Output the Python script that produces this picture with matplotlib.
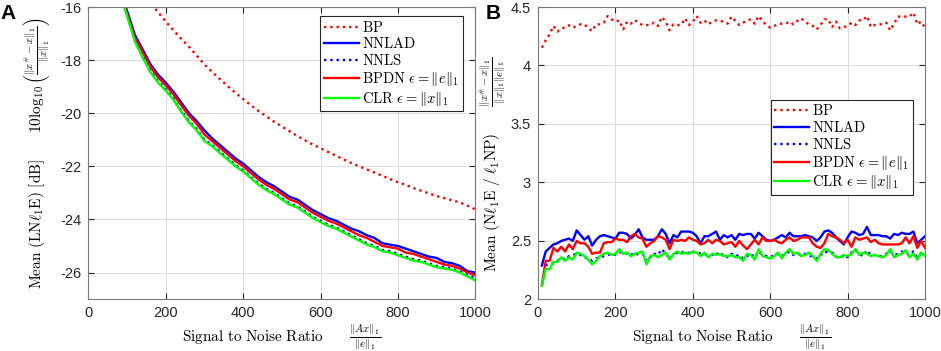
import matplotlib
matplotlib.use("Agg")
import matplotlib.pyplot as plt
from matplotlib.ticker import FormatStrFormatter

plt.rcParams["mathtext.fontset"] = "cm"
plt.rcParams["font.family"] = ["Liberation Sans", "DejaVu Sans"]
plt.rcParams["axes.unicode_minus"] = False

# ---- panel A: mean LNl1E [dB] vs SNR ----
snr_a = list(range(80, 1001, 20))
bp_a = [-13.6, -14.3, -14.9, -15.4, -15.85, -16.2, -16.55, -16.88, -17.2, -17.5,
        -17.83, -18.17, -18.45, -18.72, -18.98, -19.23, -19.47, -19.7, -19.92, -20.12,
        -20.32, -20.5, -20.68, -20.86, -21.02, -21.18, -21.32, -21.46, -21.6, -21.74,
        -21.88, -22.0, -22.12, -22.24, -22.36, -22.48, -22.6, -22.7, -22.82, -22.92,
        -23.02, -23.12, -23.2, -23.28, -23.36, -23.48, -23.62]
nnlad_a = [-15.3, -16.15, -17.05, -17.6, -18.15, -18.55, -18.85, -19.2, -19.6, -20.0,
           -20.3, -20.65, -20.95, -21.2, -21.45, -21.7, -21.9, -22.15, -22.4, -22.6,
           -22.75, -22.95, -23.15, -23.25, -23.45, -23.65, -23.8, -23.95, -24.05, -24.2,
           -24.35, -24.45, -24.6, -24.7, -24.9, -24.95, -25.0, -25.1, -25.2, -25.3,
           -25.4, -25.45, -25.6, -25.65, -25.75, -25.95, -26.0]
nnls_a = [-15.4, -16.3, -17.25, -17.85, -18.4, -18.8, -19.1, -19.45, -19.9, -20.3,
          -20.6, -21.0, -21.2, -21.45, -21.7, -21.95, -22.15, -22.4, -22.65, -22.85,
          -23.0, -23.2, -23.4, -23.5, -23.7, -23.9, -24.05, -24.2, -24.3, -24.45,
          -24.6, -24.75, -24.9, -25.0, -25.15, -25.2, -25.3, -25.4, -25.5, -25.55,
          -25.65, -25.75, -25.8, -25.85, -25.95, -26.1, -26.2]
bpdn_a = [-15.35, -16.25, -17.15, -17.7, -18.25, -18.65, -18.95, -19.3, -19.7, -20.1,
          -20.4, -20.8, -21.05, -21.3, -21.55, -21.8, -22.0, -22.25, -22.5, -22.7,
          -22.85, -23.05, -23.25, -23.35, -23.55, -23.75, -23.9, -24.05, -24.15, -24.3,
          -24.45, -24.6, -24.7, -24.85, -25.0, -25.05, -25.1, -25.25, -25.3, -25.4,
          -25.5, -25.6, -25.7, -25.75, -25.85, -26.0, -26.1]
clr_a = [-15.4, -16.35, -17.3, -17.9, -18.45, -18.85, -19.15, -19.5, -19.95, -20.35,
         -20.65, -21.05, -21.25, -21.5, -21.75, -22.0, -22.2, -22.45, -22.7, -22.9,
         -23.05, -23.25, -23.45, -23.55, -23.75, -23.95, -24.1, -24.25, -24.35, -24.5,
         -24.65, -24.8, -24.95, -25.05, -25.2, -25.25, -25.35, -25.45, -25.55, -25.6,
         -25.7, -25.8, -25.85, -25.9, -26.0, -26.15, -26.3]

# ---- panel B: mean Nl1E / l1NP vs SNR ----
snr_b = list(range(10, 1001, 10))
bp_b = [4.153, 4.216, 4.267, 4.338, 4.290, 4.318, 4.324, 4.344, 4.324, 4.338,
        4.352, 4.352, 4.318, 4.295, 4.352, 4.352, 4.366, 4.423, 4.395, 4.375,
        4.386, 4.309, 4.375, 4.358, 4.389, 4.364, 4.346, 4.346, 4.346, 4.366,
        4.338, 4.415, 4.375, 4.301, 4.352, 4.346, 4.346, 4.403, 4.346, 4.375,
        4.423, 4.366, 4.386, 4.352, 4.375, 4.386, 4.381, 4.375, 4.358, 4.418,
        4.381, 4.346, 4.366, 4.386, 4.395, 4.358, 4.423, 4.381, 4.346, 4.324,
        4.338, 4.352, 4.358, 4.358, 4.375, 4.352, 4.381, 4.403, 4.375, 4.352,
        4.338, 4.309, 4.346, 4.395, 4.395, 4.329, 4.375, 4.318, 4.329, 4.338,
        4.366, 4.346, 4.386, 4.386, 4.423, 4.329, 4.346, 4.346, 4.358, 4.366,
        4.301, 4.358, 4.418, 4.418, 4.418, 4.418, 4.452, 4.352, 4.375, 4.324]
nnlad_b = [2.29, 2.41, 2.44, 2.47, 2.48, 2.50, 2.51, 2.52, 2.50, 2.59,
           2.55, 2.51, 2.54, 2.46, 2.51, 2.54, 2.55, 2.54, 2.53, 2.52,
           2.57, 2.57, 2.56, 2.52, 2.55, 2.60, 2.53, 2.51, 2.51, 2.51,
           2.54, 2.60, 2.56, 2.48, 2.55, 2.53, 2.58, 2.58, 2.58, 2.57,
           2.54, 2.48, 2.54, 2.54, 2.56, 2.58, 2.51, 2.55, 2.53, 2.55,
           2.51, 2.56, 2.55, 2.56, 2.56, 2.52, 2.57, 2.54, 2.51, 2.50,
           2.51, 2.53, 2.55, 2.53, 2.57, 2.54, 2.54, 2.54, 2.55, 2.54,
           2.53, 2.50, 2.53, 2.58, 2.59, 2.57, 2.53, 2.50, 2.47, 2.53,
           2.58, 2.57, 2.55, 2.56, 2.62, 2.55, 2.55, 2.55, 2.54, 2.54,
           2.52, 2.56, 2.55, 2.57, 2.56, 2.56, 2.58, 2.48, 2.51, 2.54]
nnls_b = [2.13, 2.29, 2.30, 2.31, 2.33, 2.35, 2.34, 2.37, 2.38, 2.39,
          2.38, 2.36, 2.35, 2.33, 2.35, 2.36, 2.37, 2.38, 2.39, 2.38,
          2.40, 2.41, 2.39, 2.38, 2.40, 2.38, 2.39, 2.33, 2.36, 2.39,
          2.38, 2.43, 2.39, 2.35, 2.38, 2.40, 2.41, 2.39, 2.40, 2.40,
          2.41, 2.39, 2.38, 2.38, 2.38, 2.40, 2.37, 2.39, 2.36, 2.39,
          2.37, 2.38, 2.35, 2.37, 2.39, 2.36, 2.41, 2.38, 2.37, 2.36,
          2.38, 2.39, 2.37, 2.39, 2.41, 2.38, 2.39, 2.38, 2.39, 2.38,
          2.36, 2.35, 2.38, 2.41, 2.40, 2.40, 2.37, 2.35, 2.38, 2.36,
          2.40, 2.42, 2.39, 2.37, 2.42, 2.38, 2.38, 2.37, 2.37, 2.39,
          2.41, 2.38, 2.39, 2.41, 2.40, 2.38, 2.41, 2.36, 2.39, 2.38]
bpdn_b = [2.12, 2.33, 2.33, 2.44, 2.41, 2.45, 2.41, 2.47, 2.43, 2.50,
          2.48, 2.48, 2.45, 2.39, 2.40, 2.40, 2.48, 2.49, 2.49, 2.52,
          2.51, 2.51, 2.49, 2.54, 2.56, 2.53, 2.52, 2.45, 2.48, 2.50,
          2.54, 2.53, 2.51, 2.43, 2.51, 2.50, 2.51, 2.50, 2.53, 2.51,
          2.50, 2.47, 2.48, 2.51, 2.48, 2.51, 2.50, 2.47, 2.48, 2.49,
          2.45, 2.50, 2.46, 2.43, 2.47, 2.51, 2.47, 2.53, 2.50, 2.50,
          2.51, 2.49, 2.48, 2.51, 2.53, 2.50, 2.51, 2.53, 2.53, 2.53,
          2.48, 2.45, 2.44, 2.48, 2.56, 2.54, 2.53, 2.51, 2.48, 2.51,
          2.45, 2.53, 2.51, 2.52, 2.53, 2.49, 2.51, 2.48, 2.47, 2.47,
          2.47, 2.47, 2.47, 2.48, 2.53, 2.48, 2.54, 2.44, 2.50, 2.44]
clr_b = [2.12, 2.26, 2.26, 2.32, 2.32, 2.36, 2.33, 2.36, 2.34, 2.40,
         2.39, 2.37, 2.34, 2.30, 2.33, 2.37, 2.39, 2.40, 2.38, 2.39,
         2.43, 2.39, 2.40, 2.37, 2.39, 2.40, 2.41, 2.30, 2.37, 2.38,
         2.36, 2.38, 2.40, 2.34, 2.39, 2.41, 2.39, 2.40, 2.39, 2.41,
         2.40, 2.37, 2.40, 2.36, 2.39, 2.38, 2.39, 2.37, 2.37, 2.38,
         2.36, 2.36, 2.33, 2.39, 2.38, 2.34, 2.43, 2.37, 2.36, 2.35,
         2.37, 2.40, 2.35, 2.40, 2.43, 2.39, 2.40, 2.37, 2.38, 2.40,
         2.37, 2.33, 2.39, 2.43, 2.42, 2.39, 2.36, 2.36, 2.38, 2.37,
         2.39, 2.43, 2.38, 2.40, 2.39, 2.37, 2.38, 2.37, 2.36, 2.38,
         2.43, 2.36, 2.38, 2.39, 2.42, 2.36, 2.39, 2.34, 2.40, 2.37]

labels = [r"$\mathrm{BP}$", r"$\mathrm{NNLAD}$", r"$\mathrm{NNLS}$",
          r"$\mathrm{BPDN}\ \epsilon=\Vert e\Vert_1$",
          r"$\mathrm{CLR}\ \epsilon=\Vert x\Vert_1$"]
colors = ["#ff0000", "#0000ff", "#0000ff", "#ff0000", "#00ff00"]
styles = [":", "-", ":", "-", "-"]

fig = plt.figure(figsize=(9.41, 3.51), dpi=100)
axA = fig.add_axes([0.094, 0.148, 0.411, 0.832])
axB = fig.add_axes([0.5717, 0.147, 0.4113, 0.833])

series_a = [bp_a, nnlad_a, nnls_a, bpdn_a, clr_a]
series_b = [bp_b, nnlad_b, nnls_b, bpdn_b, clr_b]

for ax, snr, series in [(axA, snr_a, series_a), (axB, snr_b, series_b)]:
    for vals, lab, col, ls in zip(series, labels, colors, styles):
        ax.plot(snr, vals, ls, color=col, lw=1.7, label=lab)
    ax.set_xlim(0, 1000)
    ax.set_xticks([0, 200, 400, 600, 800, 1000])
    ax.grid(True, color="#dcdcdc", lw=0.7)
    ax.set_axisbelow(True)
    ax.tick_params(direction="in", top=True, right=True, length=4,
                   labelsize=10.5, colors="#262626", pad=5)
    for sp in ax.spines.values():
        sp.set_color("#7a7a7a")
        sp.set_linewidth(0.8)
    ax.set_xlabel(r"$\mathrm{Signal\ to\ Noise\ Ratio}\qquad\frac{\Vert Ax\Vert_1}{\Vert e\Vert_1}$",
                  fontsize=11, labelpad=2)

axA.set_ylim(-27, -16)
axA.set_yticks([-16, -18, -20, -22, -24, -26])
axA.set_ylabel(r"$\mathrm{Mean}\ (\mathrm{LN}\ell_1\mathrm{E})\ [\mathrm{dB}]\qquad 10\log_{10}\left(\frac{\Vert x^{\#}-x\Vert_1}{\Vert x\Vert_1}\right)$",
               fontsize=11)
axA.yaxis.set_label_coords(-0.094, 0.5)

axB.set_ylim(2, 4.5)
axB.set_yticks([2, 2.5, 3, 3.5, 4, 4.5])
axB.yaxis.set_major_formatter(FormatStrFormatter("%g"))
axB.set_ylabel(r"$\mathrm{Mean}\ (\mathrm{N}\ell_1\mathrm{E}\ /\ \ell_1\mathrm{NP})\qquad\frac{\Vert x^{\#}-x\Vert_1}{\Vert x\Vert_1\Vert e\Vert_1}$",
               fontsize=11)
axB.yaxis.set_label_coords(-0.08, 0.46)

for ax, anchor, loc in [(axA, (0.968, 0.969), "upper right"),
                        (axB, (0.969, 0.357), "lower right")]:
    leg = ax.legend(loc=loc, bbox_to_anchor=anchor, borderaxespad=0,
                    fontsize=10.5, handlelength=2.4, handletextpad=0.2,
                    labelspacing=0.12, borderpad=0.25, fancybox=False,
                    framealpha=1, edgecolor="#262626")
    leg.get_frame().set_linewidth(0.8)

fig.text(0.0, 0.99, "A", fontsize=15, fontweight="bold", va="top", ha="left")
fig.text(0.516, 0.99, "B", fontsize=15, fontweight="bold", va="top", ha="left")

fig.savefig("out.png", dpi=100)
